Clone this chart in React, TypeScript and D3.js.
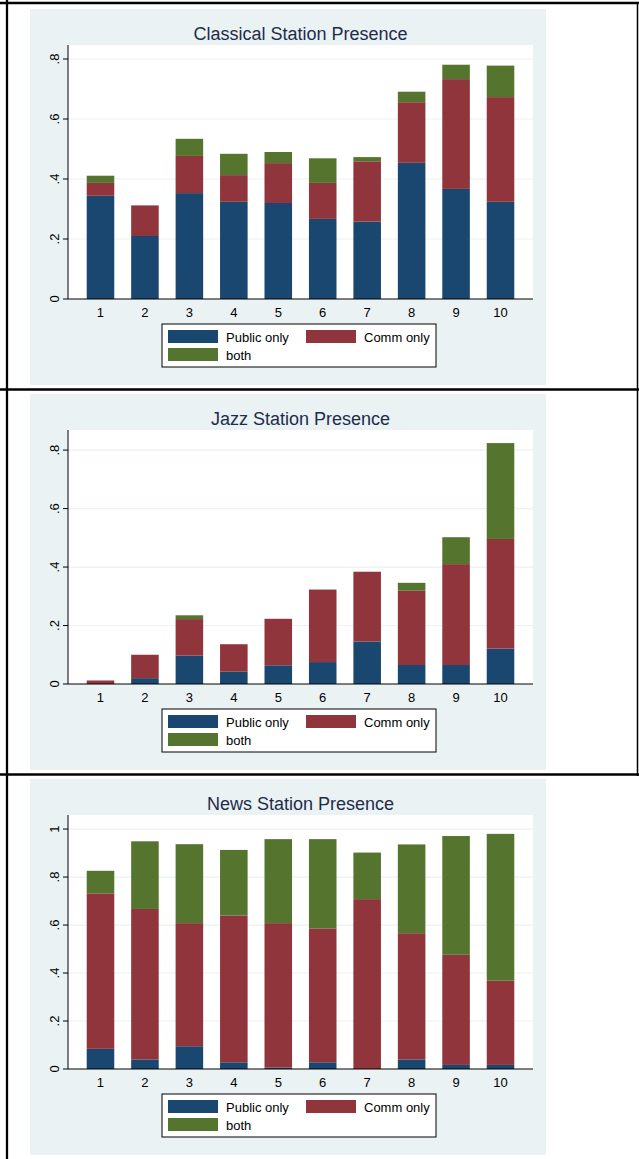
import React from "react";
import * as d3 from "d3";

const categories = [1, 2, 3, 4, 5, 6, 7, 8, 9, 10];
const seriesKeys = ["public", "comm", "both"];
const seriesLabels = ["Public only", "Comm only", "both"];
const seriesColors = ["#1a476f", "#90353b", "#55752f"];

const classicalPublic = [0.344, 0.21, 0.353, 0.324, 0.32, 0.267, 0.258, 0.454, 0.367, 0.324];
const classicalComm = [0.043, 0.102, 0.124, 0.089, 0.133, 0.12, 0.201, 0.202, 0.366, 0.349];
const classicalBoth = [0.024, 0.0, 0.057, 0.071, 0.037, 0.082, 0.014, 0.035, 0.048, 0.105];

const jazzPublic = [0, 0.02, 0.097, 0.042, 0.064, 0.075, 0.145, 0.065, 0.065, 0.121];
const jazzComm = [0.012, 0.08, 0.125, 0.094, 0.159, 0.248, 0.239, 0.254, 0.345, 0.375];
const jazzBoth = [0, 0, 0.013, 0, 0, 0, 0, 0.027, 0.092, 0.328];

const newsPublic = [0.084, 0.04, 0.095, 0.028, 0.006, 0.028, 0, 0.04, 0.017, 0.017];
const newsComm = [0.648, 0.627, 0.513, 0.612, 0.602, 0.558, 0.708, 0.526, 0.459, 0.351];
const newsBoth = [0.094, 0.282, 0.329, 0.273, 0.35, 0.372, 0.194, 0.37, 0.495, 0.612];

const classicalTicks = [0, 0.2, 0.4, 0.6, 0.8];
const jazzTicks = [0, 0.2, 0.4, 0.6, 0.8];
const newsTicks = [0, 0.2, 0.4, 0.6, 0.8, 1];

const panels = [
  { title: "Classical Station Presence", pub: classicalPublic, comm: classicalComm, both: classicalBoth, ticks: classicalTicks, yTop: 0.8467 },
  { title: "Jazz Station Presence", pub: jazzPublic, comm: jazzComm, both: jazzBoth, ticks: jazzTicks, yTop: 0.8687 },
  { title: "News Station Presence", pub: newsPublic, comm: newsComm, both: newsBoth, ticks: newsTicks, yTop: 1.0586 },
];

const W = 639;
const H = 1159;
const PANEL_STEP = 385;
const FONT = "'Liberation Sans', Arial, sans-serif";

function fmtTick(v: number) {
  if (v === 0) return "0";
  if (v === 1) return "1";
  return d3.format(".1f")(v).replace(/^0/, "");
}

function Panel({ p, index }: { p: any; index: number }) {
  const dy = index * PANEL_STEP;
  const plotLeft = 68;
  const plotRight = 533;
  const plotTop = 45 + dy;
  const plotBottom = 299 + dy;

  const x = d3.scaleLinear().domain([0.269, 10.731]).range([plotLeft, plotRight]);
  const y = d3.scaleLinear().domain([0, p.yTop]).range([plotBottom, plotTop]);

  const rows = categories.map((c, i) => ({ cat: c, public: p.pub[i], comm: p.comm[i], both: p.both[i] }));
  const stacked = d3.stack<any>().keys(seriesKeys)(rows);
  const halfW = 0.31;

  const lx = 162;
  const ly = 324 + dy;

  return (
    <g>
      <rect x={30} y={9 + dy} width={516} height={376} fill="#eaf2f3" />
      <text x={300.5} y={39.5 + dy} textAnchor="middle" fontFamily={FONT} fontSize={18} fill="#1e2c4c">
        {p.title}
      </text>
      <rect x={plotLeft} y={plotTop} width={plotRight - plotLeft} height={plotBottom - plotTop} fill="#ffffff" />
      {p.ticks.filter((t: number) => t > 0).map((t: number) => (
        <line key={"g" + t} x1={plotLeft} x2={plotRight} y1={y(t)} y2={y(t)} stroke="#eaf2f3" strokeWidth={1.2} />
      ))}
      {stacked.map((s, si) => (
        <g key={s.key} fill={seriesColors[si]}>
          {s.map((d: any, di: number) => {
            const h = y(d[0]) - y(d[1]);
            if (h <= 0.01) return null;
            return (
              <rect
                key={di}
                x={x(categories[di] - halfW)}
                y={y(d[1])}
                width={x(categories[di] + halfW) - x(categories[di] - halfW)}
                height={h}
              />
            );
          })}
        </g>
      ))}
      <line x1={plotLeft} x2={plotLeft} y1={plotTop} y2={plotBottom} stroke="#000" strokeWidth={1} />
      <line x1={plotLeft} x2={plotRight} y1={plotBottom} y2={plotBottom} stroke="#000" strokeWidth={1} />
      {p.ticks.map((t: number) => (
        <g key={"t" + t}>
          <line x1={plotLeft - 5} x2={plotLeft} y1={y(t)} y2={y(t)} stroke="#000" strokeWidth={1} />
          <text
            transform={`translate(${59},${y(t)}) rotate(-90)`}
            textAnchor="middle"
            fontFamily={FONT}
            fontSize={13}
            fill="#000"
          >
            {fmtTick(t)}
          </text>
        </g>
      ))}
      {categories.map((c) => (
        <text key={"x" + c} x={x(c)} y={plotBottom + 18} textAnchor="middle" fontFamily={FONT} fontSize={13} fill="#000">
          {c}
        </text>
      ))}
      <rect x={lx} y={ly} width={274} height={43} fill="#fff" stroke="#000" strokeWidth={1} />
      {seriesLabels.map((lab, i) => {
        const col = i === 1 ? 1 : 0;
        const row = i === 2 ? 1 : 0;
        const sx = lx + 6 + col * 138;
        const sy = ly + 6 + row * 18;
        return (
          <g key={lab}>
            <rect x={sx} y={sy} width={50} height={13} fill={seriesColors[i]} />
            <text x={sx + 58} y={sy + 11.5} fontFamily={FONT} fontSize={13} fill="#000">
              {lab}
            </text>
          </g>
        );
      })}
    </g>
  );
}

export default function App() {
  return (
    <svg
      width={W}
      height={H}
      viewBox={`0 0 ${W} ${H}`}
      style={{ position: "absolute", left: 0, top: 0, background: "#fff" }}
    >
      <rect x={0} y={0} width={W} height={H} fill="#fff" />
      {panels.map((p, i) => (
        <Panel key={p.title} p={p} index={i} />
      ))}
      <line x1={0} x2={W} y1={3} y2={3} stroke="#000" strokeWidth={2.3} />
      <line x1={0} x2={W} y1={389.5} y2={389.5} stroke="#000" strokeWidth={2.3} />
      <line x1={0} x2={W} y1={774.5} y2={774.5} stroke="#000" strokeWidth={2.3} />
      <line x1={7} x2={7} y1={0} y2={H} stroke="#000" strokeWidth={2.3} />
      <line x1={637.5} x2={637.5} y1={2} y2={776} stroke="#000" strokeWidth={1.5} />
    </svg>
  );
}
